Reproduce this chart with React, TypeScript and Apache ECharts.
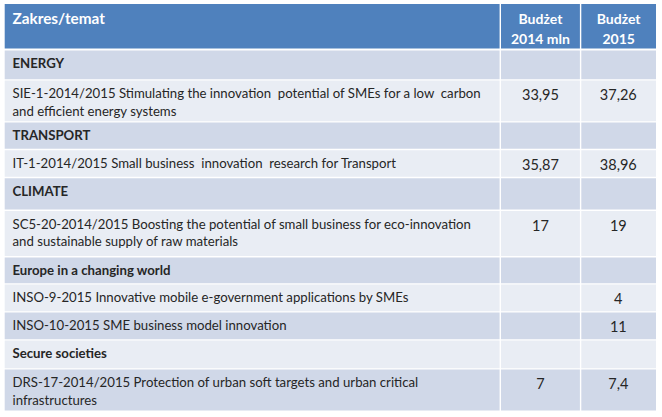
import React, { useEffect, useRef } from "react";
import * as echarts from "echarts";

// ---- data ----
const headerTitles = ["Zakres/temat", "Budżet\n2014 mln", "Budżet\n2015"];
const topics = [
  "ENERGY",
  "SIE-1-2014/2015 Stimulating the innovation  potential of SMEs for a low  carbon\nand efficient energy systems",
  "TRANSPORT",
  "IT-1-2014/2015 Small business  innovation  research for Transport",
  "CLIMATE",
  "SC5-20-2014/2015 Boosting the potential of small business for eco-innovation\nand sustainable supply of raw materials",
  "Europe in a changing world",
  "INSO-9-2015 Innovative mobile e-government applications by SMEs",
  "INSO-10-2015 SME business model innovation",
  "Secure societies",
  "DRS-17-2014/2015 Protection of urban soft targets and urban critical\ninfrastructures",
];
const rowKinds = ["group", "item", "group", "item", "group", "item", "group", "item", "item", "group", "item"];
const budget2014: (number | null)[] = [null, 33.95, null, 35.87, null, 17, null, null, null, null, 7];
const budget2015: (number | null)[] = [null, 37.26, null, 38.96, null, 19, null, 4, 11, null, 7.4];

// ---- layout (page px, mapped through hidden axes) ----
const HEADER_EDGES = [4, 48.6];
const ROW_EDGES = [50.6, 80.6, 122.6, 150.2, 178.2, 211, 257.4, 284.6, 312.6, 340.6, 369.6, 412];
const COL_EDGES = [4.7, 500.3, 580.6, 656];
const GAP = 1.4;
const FONT = "Lato, 'Open Sans', sans-serif";

const fmt = (v: number | null) => (v == null ? "" : String(v).replace(".", ","));

function textEl(api: any, str: string, x: number, y: number, opts: any) {
  const p = api.coord([x, y]);
  return {
    type: "text",
    style: {
      text: str,
      x: p[0],
      y: p[1],
      fill: opts.fill,
      font: opts.font,
      align: opts.align,
      verticalAlign: "middle",
      textAlign: opts.align,
      textVerticalAlign: "middle",
    },
  };
}

function rectEl(api: any, x0: number, y0: number, x1: number, y1: number, fill: string) {
  const a = api.coord([x0, y0]);
  const b = api.coord([x1, y1]);
  return {
    type: "rect",
    shape: { x: a[0], y: a[1], width: b[0] - a[0], height: b[1] - a[1] },
    style: { fill },
  };
}

export default function App() {
  const ref = useRef<HTMLDivElement>(null);
  useEffect(() => {
    if (!ref.current) return;
    const chart = echarts.init(ref.current, null, { renderer: "svg" });
    const rowData = topics.map((_, i) => [i]);
    const renderHeader = (params: any, api: any) => {
      const children: any[] = [];
      const [t, b] = HEADER_EDGES;
      for (let c = 0; c < 3; c++) {
        const x0 = COL_EDGES[c] + (c > 0 ? GAP / 2 : 0);
        const x1 = COL_EDGES[c + 1] - (c < 2 ? GAP / 2 : 0);
        children.push(rectEl(api, x0, t, x1, b, "#4F81BD"));
        const lines = headerTitles[c].split("\n");
        lines.forEach((ln, k) => {
          if (c === 0) {
            children.push(textEl(api, ln, 12.5, t + 14 + k * 20, { fill: "#fff", font: `bold 15.3px ${FONT}`, align: "left" }));
          } else {
            children.push(
              textEl(api, ln, (x0 + x1) / 2, t + 14 + k * 20, { fill: "#fff", font: `bold 14px ${FONT}`, align: "center" })
            );
          }
        });
      }
      return { type: "group", children };
    };
    const renderRow = (params: any, api: any) => {
      const i = api.value(0);
      const t = ROW_EDGES[i];
      const b = ROW_EDGES[i + 1] - GAP;
      const fill = i % 2 === 0 ? "#D0D8E8" : "#E9EDF4";
      const children: any[] = [];
      for (let c = 0; c < 3; c++) {
        const x0 = COL_EDGES[c] + (c > 0 ? GAP / 2 : 0);
        const x1 = COL_EDGES[c + 1] - (c < 2 ? GAP / 2 : 0);
        children.push(rectEl(api, x0, t, x1, b, fill));
      }
      const bold = rowKinds[i] === "group";
      topics[i].split("\n").forEach((ln, k) => {
        children.push(
          textEl(api, ln, 12.5, t + 12.8 + k * 17.6, {
            fill: "#262626",
            font: `${bold ? "bold " : ""}13.2px ${FONT}`,
            align: "left",
          })
        );
      });
      const vals = [budget2014[i], budget2015[i]];
      vals.forEach((v, j) => {
        if (v == null) return;
        const c = j + 1;
        const cx = (COL_EDGES[c] + COL_EDGES[c + 1]) / 2;
        children.push(textEl(api, fmt(v), cx, t + 14, { fill: "#262626", font: `14.5px ${FONT}`, align: "center" }));
      });
      return { type: "group", children };
    };
    chart.setOption({
      animation: false,
      backgroundColor: "#ffffff",
      grid: { left: 0, top: 0, width: 662, height: 417 },
      xAxis: { type: "value", min: 0, max: 662, show: false },
      yAxis: { type: "value", min: 0, max: 417, inverse: true, show: false },
      series: [
        { type: "custom", renderItem: renderHeader, data: [[0]], clip: false, silent: true },
        { type: "custom", renderItem: renderRow, data: rowData, clip: false, silent: true },
      ],
    });
    return () => chart.dispose();
  }, []);
  return (
    <div
      ref={ref}
      style={{ position: "fixed", left: 0, top: 0, width: 662, height: 417 }}
    />
  );
}
